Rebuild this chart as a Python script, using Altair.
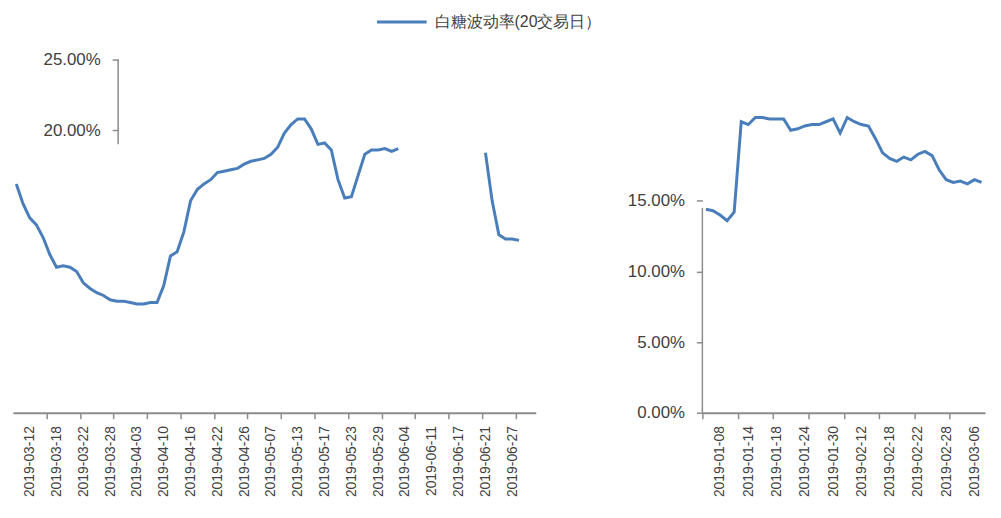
import altair as alt
import pandas as pd

SERIES = "白糖波动率(20交易日）"
BLUE = "#4a7ebb"
GREY = "#8c8c8c"
TEXT = "#404040"
FONT = "Liberation Sans"

HOLIDAYS = ["2019-01-01", "2019-02-04", "2019-02-05", "2019-02-06", "2019-02-07",
            "2019-02-08", "2019-04-05", "2019-05-01", "2019-05-02", "2019-05-03",
            "2019-06-07"]


def trading_days(start, end):
    out = []
    for d in pd.bdate_range(start, end):
        s = d.strftime("%Y-%m-%d")
        if s not in HOLIDAYS:
            out.append(s)
    return out


# categories (trading days) of the two panels
left_dates = trading_days("2019-03-08", "2019-07-02")
right_dates = trading_days("2019-01-04", "2019-03-07")

# volatility values in percent (None = not drawn)
left_vol = [16.2, 14.8, 13.8, 13.3, 12.4, 11.2, 10.3, 10.4, 10.3, 10.0,
            9.2, 8.8, 8.5, 8.3, 8.0, 7.9, 7.9, 7.8, 7.7, 7.7,
            7.8, 7.8, 9.0, 11.1, 11.4, 12.8, 15.0, 15.8, 16.2, 16.5,
            17.0, 17.1, 17.2, 17.3, 17.6, 17.8, 17.9, 18.0, 18.3, 18.8,
            19.8, 20.4, 20.8, 20.8, 20.1, 19.0, 19.1, 18.6, 16.5, 15.2,
            15.3, 16.8, 18.3, 18.6, 18.6, 18.7, 18.5, 18.7,
            None, None, None, None, None, None, None, None, None, None, None, None,
            18.4, 15.0, 12.6, 12.3, 12.3, 12.2, None, None]

right_vol = [14.4, 14.3, 14.0, 13.6, 14.2, 20.6, 20.4, 20.9, 20.9, 20.8,
             20.8, 20.8, 20.0, 20.1, 20.3, 20.4, 20.4, 20.6, 20.8, 19.8,
             20.9, 20.6, 20.4, 20.3, 19.4, 18.4, 18.0, 17.8, 18.1, 17.9,
             18.3, 18.5, 18.2, 17.2, 16.5, 16.3, 16.4, 16.2, 16.5, 16.3]

# tick labels (every 4th trading day) and tick marks (every 5th)
left_labels = left_dates[2::4]
right_labels = right_dates[2::4]
left_ticks = left_dates[5::5]
right_ticks = right_dates[0::5]

left_pct_ticks = [0.20, 0.25]
right_pct_ticks = [0.0, 0.05, 0.10, 0.15]


def to_frame(dates, vols):
    rows = []
    seg = 0
    prev_none = False
    for d, v in zip(dates, vols):
        if v is None:
            prev_none = True
            continue
        if prev_none and rows:
            seg += 1
        prev_none = False
        rows.append({"date": d, "vol": v / 100.0, "seg": seg, "series": SERIES})
    return pd.DataFrame(rows)


left_df = to_frame(left_dates, left_vol)
right_df = to_frame(right_dates, right_vol)
one_row = pd.DataFrame({"k": [0]})

LEFT_W, RIGHT_W, H = 527, 285, 356

color = alt.Color(
    "series:N",
    scale=alt.Scale(range=[BLUE]),
    legend=alt.Legend(
        orient="none", legendX=382, legendY=-48, title=None,
        symbolType="M-3,0H3", symbolSize=278, symbolStrokeWidth=3,
        symbolStrokeColor=BLUE,
        labelFontSize=16, labelFont=FONT, labelColor=TEXT, labelOffset=23,
        labelLimit=400, padding=0,
    ),
)


def panel(df, dates, labels, ticks, width, pct_ticks, axis_x, rule_top):
    xscale = alt.Scale(domain=dates, type="point", padding=0.5)
    yscale = alt.Scale(domain=[0, 0.25], nice=False)
    step = width / len(dates)
    line = alt.Chart(df).mark_line(strokeWidth=3).encode(
        x=alt.X("date:O", scale=xscale, sort=dates,
                axis=alt.Axis(values=labels, labelAngle=-90, ticks=False,
                              domainColor=GREY, domainWidth=2, labelPadding=13,
                              labelFontSize=14, labelFont=FONT, labelColor=TEXT,
                              title=None, orient="bottom", grid=False)),
        y=alt.Y("vol:Q", scale=yscale,
                axis=alt.Axis(values=pct_ticks, format=".2%", domain=False,
                              offset=-axis_x, tickSize=6, tickColor=GREY,
                              tickWidth=1.5, labelPadding=12, labelFontSize=17,
                              labelFont=FONT, labelColor=TEXT, title=None,
                              grid=False)),
        color=color,
        detail="seg:N",
    )
    tick_layer = alt.Chart(df).mark_point(opacity=0).encode(
        x=alt.X("date:O", scale=xscale, sort=dates,
                axis=alt.Axis(values=ticks, labels=False, domain=False,
                              tickSize=6, tickColor=GREY, tickWidth=1.5,
                              tickOffset=-step / 2, title=None,
                              orient="bottom", grid=False)),
        y=alt.Y("vol:Q", scale=yscale),
    )
    rule = alt.Chart(one_row).mark_rule(color=GREY, strokeWidth=1.5).encode(
        x=alt.value(axis_x),
        y=alt.YDatum(rule_top[0], type="quantitative"),
        y2=alt.Y2Datum(rule_top[1]),
    )
    return alt.layer(line, tick_layer, rule).resolve_axis(x="independent").properties(
        width=width, height=H)


left = panel(left_df, left_dates, left_labels, left_ticks, LEFT_W,
             left_pct_ticks, 106, (0.19, 0.25))
right = panel(right_df, right_dates, right_labels, right_ticks, RIGHT_W,
              right_pct_ticks, 0, (0.0, 0.145))

chart = alt.hconcat(left, right, spacing=168, bounds="flush").properties(
    padding={"left": 2, "top": 2, "right": 5, "bottom": 5},
    background="white",
).configure_view(stroke=None)

chart.save("out.html", embed_options={"renderer": "svg", "actions": False})
